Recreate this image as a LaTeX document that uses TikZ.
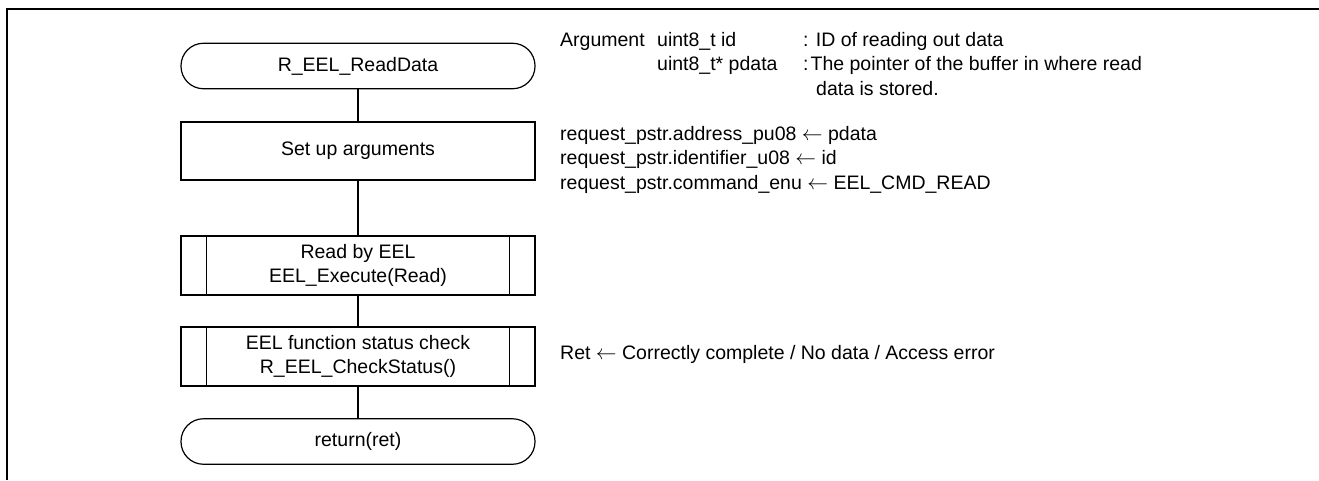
\documentclass[tikz,border=0pt]{standalone}
\usepackage{fontspec}
\setmainfont{Liberation Sans}
\newcommand{\larr}{\ensuremath{\leftarrow}}
\begin{document}
\begin{tikzpicture}[x=1pt,y=-1pt,
  every node/.style={font=\fontsize{19.5}{24.5}\selectfont, inner sep=0pt},
  fcshape/.style={draw, line width=1.2pt, minimum width=354pt, align=center},
  term/.style={fcshape, rounded corners=22.5pt, minimum height=45.5pt},
  procbox/.style={fcshape, minimum height=58pt},
  predef/.style={fcshape, minimum height=59pt},
  link/.style={line width=1.2pt},
  side/.style={anchor=base west},
  frameline/.style={line width=2pt}]
\useasboundingbox (0,0) rectangle (1319,480);
\draw[frameline] (7,480) -- (7,9) -- (1319,9);

\node[term]    (t1) at (358,66)    {R\_EEL\_ReadData};
\node[procbox] (b1) at (358,151)   {Set up arguments};
\node[predef]  (p1) at (358,265.5) {Read by EEL\\EEL\_Execute(Read)};
\node[predef]  (p2) at (358,356.5) {EEL function status check\\R\_EEL\_CheckStatus()};
\node[term]    (t2) at (358,441.5) {return(ret)};

\foreach \n in {p1,p2}{
  \draw[link] ([xshift=26pt]\n.north west) -- ([xshift=26pt]\n.south west);
  \draw[link] ([xshift=-26pt]\n.north east) -- ([xshift=-26pt]\n.south east);
}
\draw[link] (t1) -- (b1);
\draw[link] (b1) -- (p1);
\draw[link] (p1) -- (p2);
\draw[link] (p2) -- (t2);

\node[side] (a1) at (560,46)   {Argument};
\node[side] (a2) at (657,46)   {uint8\_t id};
\node[side] (a3) at (803,46)   {: ID of reading out data};
\node[side] (a4) at (657,70.5) {uint8\_t* pdata};
\node[side] (a5) at (803,70.5) {:\kern2pt The pointer of the buffer in where read};
\node[side] (a6) at (816,95)   {data is stored.};

\node[side] (r1) at (560,140)   {request\_pstr.address\_pu08 \larr{} pdata};
\node[side] (r2) at (560,164.5) {request\_pstr.identifier\_u08 \larr{} id};
\node[side] (r3) at (560,189)   {request\_pstr.command\_enu \larr{} EEL\_CMD\_READ};

\node[side] (s1) at (560,359) {Ret \larr{} Correctly complete / No data / Access error};
\end{tikzpicture}
\end{document}
